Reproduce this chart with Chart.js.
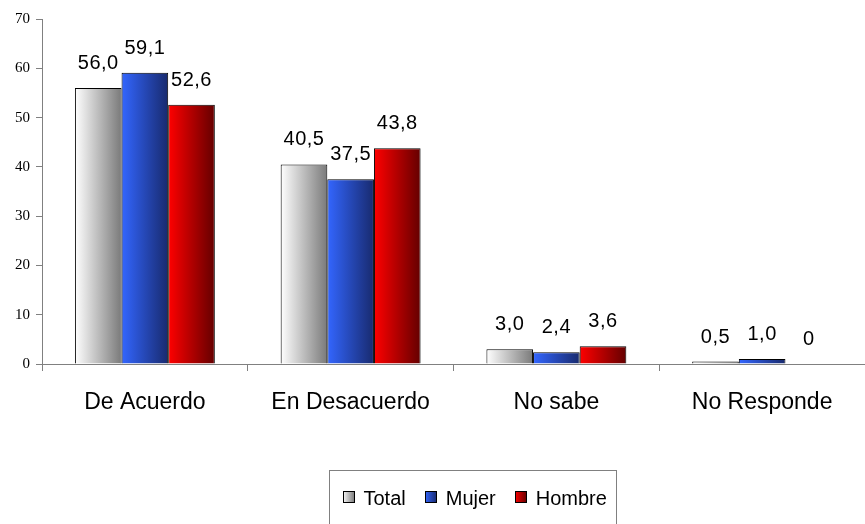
<!DOCTYPE html>
<html>
<head>
<meta charset="utf-8">
<script src="https://cdn.jsdelivr.net/npm/chart.js@4"></script>
<style>
    html, body { margin: 0; padding: 0; background: #fff; }
    #wrap { width: 865px; height: 524px; }
</style>
</head>
<body>
<div id="wrap"><canvas id="chart" width="865" height="524"></canvas></div>
<script>
const categories = ["De Acuerdo", "En Desacuerdo", "No sabe", "No Responde"];
const seriesNames = ["Total", "Mujer", "Hombre"];
const totalValues = [56.0, 40.5, 3.0, 0.5];
const mujerValues = [59.1, 37.5, 2.4, 1.0];
const hombreValues = [52.6, 43.8, 3.6, 0];
const yTicks = [0, 10, 20, 30, 40, 50, 60, 70];

const gradStops = [
    ["#ffffff", "#7a7a7a"],
    ["#3366ff", "#182a6e"],
    ["#ff0000", "#640000"]
];
const groupPct = 0.68;

function fmt(v) {
    if (v === 0) return "0";
    return v.toFixed(1).replace(".", ",");
}

function barFill(ctx) {
    const chart = ctx.chart;
    const xs = chart.scales.x;
    const stops = gradStops[ctx.datasetIndex];
    if (!xs || !xs.width || ctx.dataIndex == null) return stops[0];
    const catW = xs.width / categories.length;
    const bw = catW * groupPct / seriesNames.length;
    const cx = xs.getPixelForValue(ctx.dataIndex) + (ctx.datasetIndex - 1) * bw;
    const g = chart.ctx.createLinearGradient(cx - bw / 2, 0, cx + bw / 2, 0);
    g.addColorStop(0, stops[0]);
    g.addColorStop(1, stops[1]);
    return g;
}

function makeDataset(i, values) {
    return {
        label: seriesNames[i],
        data: values,
        backgroundColor: barFill,
        borderColor: "#000",
        borderWidth: 1,
        categoryPercentage: groupPct,
        barPercentage: 1
    };
}

const valueLabels = {
    id: "valueLabels",
    afterDatasetsDraw(chart) {
        const ctx = chart.ctx;
        ctx.save();
        ctx.font = "20px 'Liberation Sans', Arial, sans-serif";
        try { ctx.letterSpacing = "0.5px"; } catch (e) {}
        ctx.fillStyle = "#000";
        ctx.textAlign = "center";
        ctx.textBaseline = "alphabetic";
        chart.data.datasets.forEach((ds, i) => {
            const meta = chart.getDatasetMeta(i);
            meta.data.forEach((el, j) => {
                ctx.fillText(fmt(ds.data[j]), el.x, el.y - 19);
            });
        });
        ctx.restore();
    }
};

const boxLegend = {
    id: "boxLegend",
    afterDraw(chart) {
        const ctx = chart.ctx;
        ctx.save();
        ctx.font = "20px 'Liberation Sans', Arial, sans-serif";
        const left = 329.5, top = 470.5;
        const pad = 13, sw = 12, gap = 9, itemGap = 19;
        let w = pad * 2;
        seriesNames.forEach((n, i) => {
            w += sw + gap + ctx.measureText(n).width;
            if (i < seriesNames.length - 1) w += itemGap;
        });
        ctx.strokeStyle = "#808080";
        ctx.lineWidth = 1;
        ctx.strokeRect(left, top, Math.round(w) - 3, 80);

        let x = left + pad;
        const baseY = 505;
        ctx.textBaseline = "alphabetic";
        ctx.textAlign = "left";
        seriesNames.forEach((n, i) => {
            const g = ctx.createLinearGradient(x, 0, x + sw, 0);
            g.addColorStop(0, gradStops[i][0]);
            g.addColorStop(1, gradStops[i][1]);
            ctx.fillStyle = g;
            ctx.fillRect(Math.round(x), 491, sw, sw);
            ctx.strokeStyle = "#000";
            ctx.strokeRect(Math.round(x) + 0.5, 491.5, sw - 1, sw - 1);
            x += sw + gap;
            ctx.fillStyle = "#000";
            ctx.fillText(n, x, baseY);
            x += ctx.measureText(n).width + itemGap;
        });
        ctx.restore();
    }
};

const chart = new Chart(document.getElementById("chart"), {
    type: "bar",
    data: {
        labels: categories,
        datasets: [
            makeDataset(0, totalValues),
            makeDataset(1, mujerValues),
            makeDataset(2, hombreValues)
        ]
    },
    options: {
        responsive: false,
        animation: false,
        layout: { padding: { top: 19, right: 0, bottom: 100, left: 0 } },
        plugins: {
            legend: { display: false },
            tooltip: { enabled: false },
            colors: { enabled: false }
        },
        scales: {
            x: {
                afterFit: s => { s.height = 60; },
                border: { display: true, color: "#808080", width: 1 },
                grid: {
                    offset: true,
                    drawOnChartArea: false,
                    drawTicks: true,
                    tickLength: 7,
                    color: "#808080"
                },
                ticks: {
                    color: "#000",
                    padding: 18,
                    font: { family: "'Liberation Sans', Arial, sans-serif", size: 23 }
                }
            },
            y: {
                min: 0,
                max: 70,
                afterFit: s => { s.width = 42; },
                afterBuildTicks: s => { s.ticks = yTicks.map(v => ({ value: v })); },
                border: { display: true, color: "#808080", width: 1 },
                grid: {
                    drawOnChartArea: false,
                    drawTicks: true,
                    tickLength: 6,
                    color: "#808080"
                },
                ticks: {
                    color: "#000",
                    padding: 6,
                    font: { family: "'Liberation Serif', 'Times New Roman', serif", size: 15 }
                }
            }
        }
    },
    plugins: [valueLabels, boxLegend]
});
chart.update();
</script>
</body>
</html>
